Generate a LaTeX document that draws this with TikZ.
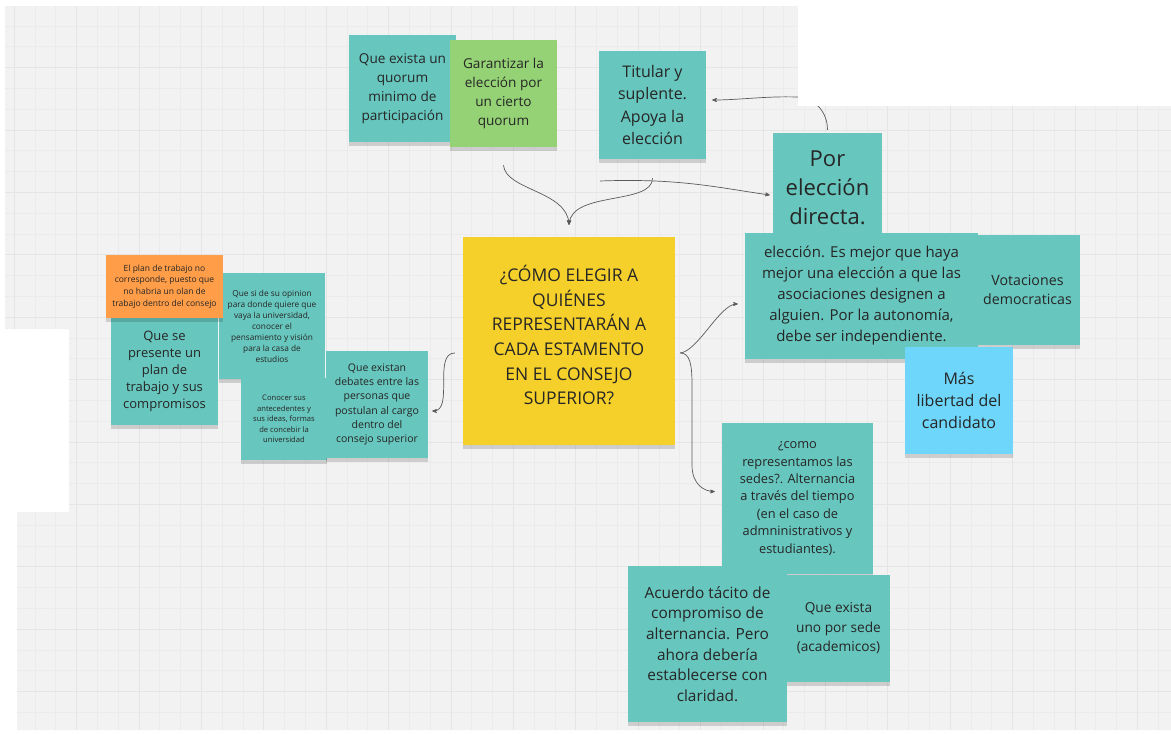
\documentclass[tikz,border=0pt]{standalone}
\usepackage{fontspec}
\setmainfont{Open Sans}
\usetikzlibrary{arrows,shadows}

\definecolor{fondo}{HTML}{F2F2F2}
\definecolor{rejilla}{HTML}{EBEBEB}
\definecolor{rejillaFuerte}{HTML}{E5E5E5}
\definecolor{notaTeal}{HTML}{67C6BD}
\definecolor{notaAmarilla}{HTML}{F5D02A}
\definecolor{notaVerde}{HTML}{94D275}
\definecolor{notaNaranja}{HTML}{FF9D48}
\definecolor{notaCeleste}{HTML}{6DD6FA}
\definecolor{linea}{HTML}{5A5A5A}

\begin{document}
\begin{tikzpicture}[x=1pt,y=-1pt,>=stealth',
    nota/.style={rectangle,fill=notaTeal,inner sep=0pt,align=center,text=black!85,
      drop shadow={shadow xshift=0pt,shadow yshift=-4pt,opacity=.15,fill=black}},
    tam/.style 2 args={font=\fontsize{#1}{#2}\selectfont},
    enlace/.style={draw=linea,line width=.7pt}]
\useasboundingbox (0,0) rectangle (1171,734);

% tablero
\fill[fondo] (5,6) -- (798,6) -- (798,106) -- (1171,106) -- (1171,730) -- (17,730)
  -- (17,512) -- (69,512) -- (69,329) -- (5,329) -- cycle;
\begin{scope}
  \clip (5,6) -- (798,6) -- (798,106) -- (1171,106) -- (1171,730) -- (17,730)
    -- (17,512) -- (69,512) -- (69,329) -- (5,329) -- cycle;
  \foreach \gx in {14,34.8,...,1171} \draw[rejilla,line width=.4pt] (\gx,0) -- (\gx,734);
  \foreach \gy in {5,25.8,...,734} \draw[rejilla,line width=.4pt] (0,\gy) -- (1171,\gy);
  \foreach \gx in {14,76.4,...,1171} \draw[rejillaFuerte,line width=.5pt] (\gx,0) -- (\gx,734);
  \foreach \gy in {5,67.4,...,734} \draw[rejillaFuerte,line width=.5pt] (0,\gy) -- (1171,\gy);
\end{scope}

% pregunta central
\node[nota,fill=notaAmarilla,minimum width=212,minimum height=208,tam={17.5}{24.6}] (centro) at (569,341)
  {¿CÓMO ELEGIR A\\QUIÉNES\\REPRESENTARÁN A\\CADA ESTAMENTO\\EN EL CONSEJO\\SUPERIOR?\rule[-12pt]{0pt}{0pt}};

% arriba
\node[nota,minimum width=107,minimum height=107,tam={13.6}{19}] (quorum) at (402.5,88.5)
  {Que exista un\\quorum\\minimo de\\participación};
\node[nota,fill=notaVerde,minimum width=107,minimum height=107,tam={13.6}{19}] (garantizar) at (503.5,93.5)
  {Garantizar la\\elección por\\un cierto\\quorum};
\node[nota,minimum width=107,minimum height=108,tam={16}{22.6}] (titular) at (652.5,105)
  {Titular y\\suplente.\\Apoya la\\elección};

% derecha
\node[nota,minimum width=109,minimum height=109,tam={22}{29}] (por) at (827.5,187.5)
  {Por\\elección\\directa.};
\node[nota,minimum width=105,minimum height=110,tam={14.2}{19.5}] (votaciones) at (1027.5,290)
  {Votaciones\\democraticas};
\node[nota,minimum width=233,minimum height=126,tam={15}{21}] (ancho) at (861.5,296)
  {elección. Es mejor que haya\\mejor una elección a que las\\asociaciones designen a\\alguien. Por la autonomía,\\debe ser independiente.};
\node[nota,fill=notaCeleste,minimum width=108,minimum height=107,tam={16}{22}] (mas) at (959,400.5)
  {Más\\libertad del\\candidato};

% abajo
\node[nota,minimum width=151,minimum height=151,tam={12.8}{17.4}] (sedes) at (797.5,498.5)
  {¿como\\representamos las\\sedes?. Alternancia\\a través del tiempo\\(en el caso de\\admninistrativos y\\estudiantes).};
\node[nota,minimum width=103,minimum height=107,tam={13.7}{19.5}] (uno) at (838.5,628.5)
  {Que exista\\uno por sede\\(academicos)};
\node[nota,minimum width=159,minimum height=156,tam={15.4}{20.6}] (acuerdo) at (707.5,644)
  {Acuerdo tácito de\\compromiso de\\alternancia. Pero\\ahora debería\\establecerse con\\claridad.};

% izquierda
\node[nota,minimum width=107,minimum height=107,tam={13}{17}] (presente) at (164.5,371.5)
  {Que se\\presente un\\plan de\\trabajo y sus\\compromisos};
\node[nota,minimum width=106,minimum height=106,tam={8.3}{11}] (opinion) at (272,326)
  {Que si de su opinion\\para donde quiere que\\vaya la universidad,\\conocer el\\pensamiento y visión\\para la casa de\\estudios};
\node[nota,fill=notaNaranja,minimum width=117,minimum height=63,tam={8.5}{11.7}] (plan) at (164.5,286.5)
  {El plan de trabajo no\\corresponde, puesto que\\no habria un olan de\\trabajo dentro del consejo};
\node[nota,minimum width=86,minimum height=82,tam={7.6}{10.6}] (conocer) at (284,419)
  {Conocer sus\\antecedentes y\\sus ideas, formas\\de concebir la\\universidad};
\node[nota,minimum width=102,minimum height=107,tam={10.5}{14.3}] (debates) at (377,404.5)
  {Que existan\\debates entre las\\personas que\\postulan al cargo\\dentro del\\consejo superior};

% conectores
\draw[enlace,->] ([xshift=-8pt,yshift=-12pt]centro.west) .. controls +(-22,0) and +(22,0) .. ([xshift=4pt,yshift=-6.5pt]debates.east);
\draw[enlace,->] ([yshift=-18pt]garantizar.south) .. controls +(2,25) and +(-2,-34) .. ([yshift=12pt]centro.north);
\draw[enlace,->] ([yshift=-19pt]titular.south) .. controls +(0,27) and +(3,-34) .. ([yshift=12pt]centro.north);
\coordinate (giro) at (600,181);
\draw[enlace,->] (giro) .. controls +(80,-3) and +(-50,-7) .. ([xshift=-3pt,yshift=-7.5pt]por.west);
\draw[enlace,->] ([yshift=3pt]por.north) .. controls +(0,-20) and +(15,0) .. (797,97)
  .. controls (765,96) and (740,100) .. ([xshift=6pt,yshift=5pt]titular.east);
\draw[enlace,->] ([xshift=5pt,yshift=-12pt]centro.east) .. controls +(18,-2) and +(-18,0) .. ([xshift=-7pt,yshift=-8pt]ancho.west);
\draw[enlace,->] ([xshift=5pt,yshift=-12pt]centro.east) .. controls +(10,0) and +(0,-20) .. (692,385)
  -- (692,465) .. controls +(0,20) and +(-10,0) .. ([xshift=-7pt,yshift=7pt]sedes.west);

% borde de la captura
\fill[white] (798,0) rectangle (1171,106);
\end{tikzpicture}
\end{document}
